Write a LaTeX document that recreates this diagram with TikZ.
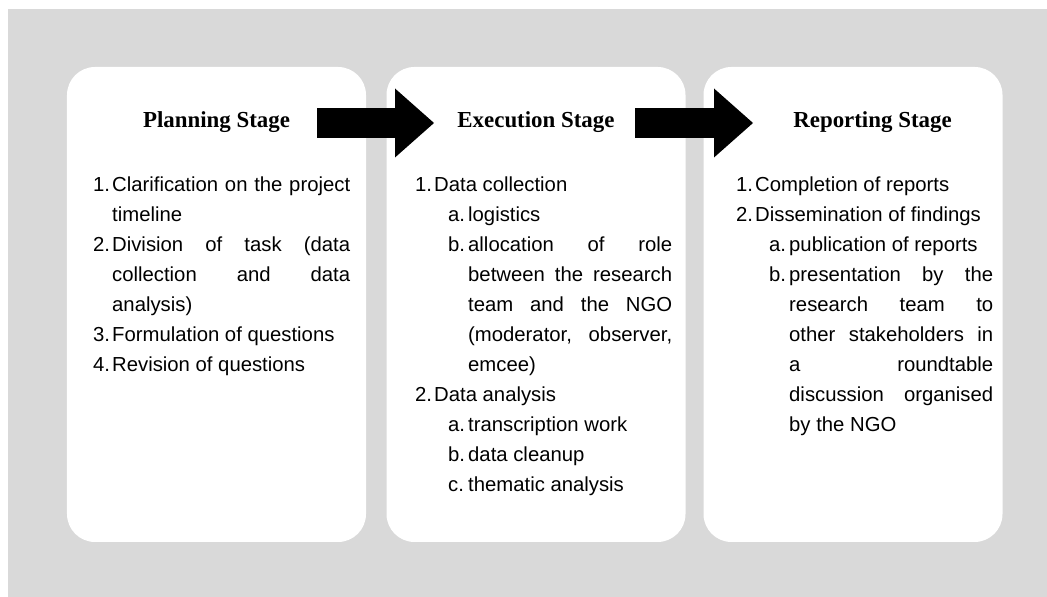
\documentclass[tikz,border=0pt]{standalone}
\usepackage{fontspec}
\setmainfont{Liberation Sans}
\newfontfamily\headfont{Liberation Serif}
\usetikzlibrary{arrows.meta}

\definecolor{bggrey}{RGB}{217,217,217}

% list lines with hanging indents, as in the boxes
\newcommand\lvlone[2]{\par\hangindent=19bp\hangafter=1\noindent\strut\makebox[19bp][l]{#1}#2\par}
\newcommand\lvltwo[2]{\par\hangindent=53bp\hangafter=1\noindent\strut\hspace*{33bp}\makebox[20bp][l]{#1}#2\par}

\tolerance=10000
\hbadness=10000
\hyphenpenalty=10000

\begin{document}
\begin{tikzpicture}[
  x=1bp, y=1bp,
  stagebox/.style={fill=white,rounded corners=28bp,minimum width=299bp,minimum height=475bp,inner sep=0pt},
  stagetitle/.style={anchor=base,inner sep=0pt,font=\headfont\bfseries\fontsize{22.9bp}{27bp}\selectfont},
  stagelist/.style={anchor=north west,inner sep=0pt,text width=257bp,align=justify,font=\fontsize{20.3bp}{30bp}\selectfont},
  stagearrow/.style={line width=30bp,-{Triangle[length=39bp,width=69bp,line width=0pt]}}
]
  \useasboundingbox (0,0) rectangle (1047,597);
  \fill[bggrey] (8,0) rectangle (1047,588);

  \node[stagebox] (plan) at (216.5,292.5) {};
  \node[stagebox] (exec) at (536,292.5) {};
  \node[stagebox] (report) at (853,292.5) {};

  \node[stagetitle] (plantitle) at (216.5,469) {Planning Stage};
  \node[stagetitle] (exectitle) at (536,469) {Execution Stage};
  \node[stagetitle] (reporttitle) at (872.5,469) {Reporting Stage};

  \node[stagelist] (planlist) at (93,436) {%
    \lvlone{1.}{Clarification on the project\linebreak timeline}
    \lvlone{2.}{Division of task (data\linebreak collection and data\linebreak analysis)}
    \lvlone{3.}{Formulation of questions}
    \lvlone{4.}{Revision of questions}};

  \node[stagelist] (execlist) at (415,436) {%
    \lvlone{1.}{Data collection}
    \lvltwo{a.}{logistics}
    \lvltwo{b.}{allocation of role\linebreak between the research\linebreak team and the NGO\linebreak (moderator, observer,\linebreak emcee)}
    \lvlone{2.}{Data analysis}
    \lvltwo{a.}{transcription work}
    \lvltwo{b.}{data cleanup}
    \lvltwo{c.}{thematic analysis}};

  \node[stagelist] (reportlist) at (736,436) {%
    \lvlone{1.}{Completion of reports}
    \lvlone{2.}{Dissemination of findings}
    \lvltwo{a.}{publication of reports}
    \lvltwo{b.}{presentation by the\linebreak research team to\linebreak other stakeholders in\linebreak a roundtable\linebreak discussion organised\linebreak by the NGO}};

  \coordinate (a1s) at (317,474);
  \coordinate (a1e) at (434,474);
  \coordinate (a2s) at (635,474);
  \coordinate (a2e) at (753,474);

  \draw[stagearrow] (a1s) -- (a1e);
  \draw[stagearrow] (a2s) -- (a2e);
\end{tikzpicture}
\end{document}
